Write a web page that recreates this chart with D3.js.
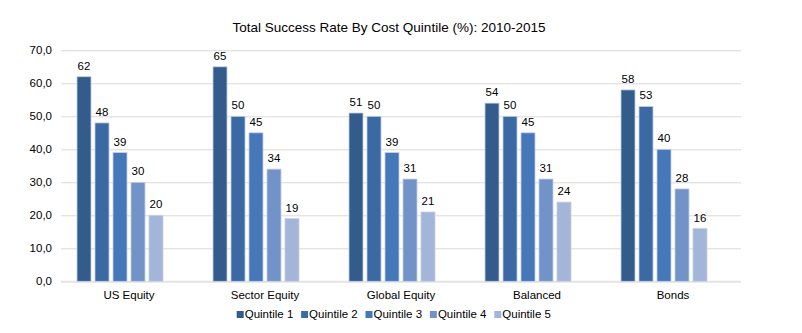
<!DOCTYPE html>
<html>
<head>
<meta charset="utf-8">
<script src="https://cdn.jsdelivr.net/npm/d3@7"></script>
<style>
html,body{margin:0;padding:0;background:#fff;}
svg{display:block;font-family:"Liberation Sans",Arial,sans-serif;}
</style>
</head>
<body>
<svg id="chart" width="802" height="333"></svg>
<script>
const title = "Total Success Rate By Cost Quintile (%): 2010-2015";
const categories = ["US Equity","Sector Equity","Global Equity","Balanced","Bonds"];
const seriesNames = ["Quintile 1","Quintile 2","Quintile 3","Quintile 4","Quintile 5"];
const quintile1 = [62,65,51,54,58];
const quintile2 = [48,50,50,50,53];
const quintile3 = [39,45,39,45,40];
const quintile4 = [30,34,31,31,28];
const quintile5 = [20,19,21,24,16];
const yTicks = [0,10,20,30,40,50,60,70];
const colors = ["#335b8c","#3b69a3","#4577b9","#7293c8","#a3b5d9"];

const seriesValues = [quintile1,quintile2,quintile3,quintile4,quintile5];

const svg = d3.select("#chart");
const margin = {left:61, right:61, top:50.3, bottom:51.7};
const W = 802, H = 333;

const x0 = d3.scaleBand().domain(categories)
  .range([margin.left, W - margin.right])
  .paddingInner(0.206).paddingOuter(0.103);
// six slots per group (last slot empty, as in the source chart)
const slots = [...seriesNames, "_empty"];
const x1 = d3.scaleBand().domain(slots).range([0, x0.bandwidth()]).paddingInner(0.22).paddingOuter(0.11);
const y = d3.scaleLinear().domain([0,70]).range([H - margin.bottom, margin.top]);

// title
svg.append("text").attr("x", 389).attr("y", 32).attr("text-anchor","middle")
  .attr("font-size", 13.5).attr("fill","#000").text(title);

// gridlines
const yAxis = d3.axisLeft(y).tickValues(yTicks).tickSize(-(W - margin.left - margin.right))
  .tickFormat(d => d3.format(".1f")(d).replace(".", ","));
const gy = svg.append("g").attr("transform", `translate(${margin.left},0)`).call(yAxis);
gy.select(".domain").remove();
gy.selectAll(".tick line").attr("stroke","#d9d9d9").attr("stroke-width",1);
gy.selectAll(".tick").filter(d => d === 0).select("line").attr("stroke","#e3e3e3").attr("stroke-width",2);
gy.selectAll(".tick text").attr("x",-9).attr("font-size",11.5).attr("fill","#000")
  .attr("font-family","'Liberation Sans',Arial,sans-serif");

// bars
const groups = svg.append("g").selectAll("g").data(categories).join("g")
  .attr("transform", d => `translate(${x0(d)},0)`);
seriesNames.forEach((s, si) => {
  groups.append("rect")
    .attr("x", x1(s))
    .attr("y", (c, ci) => y(seriesValues[si][ci]))
    .attr("width", x1.bandwidth())
    .attr("height", (c, ci) => y(0) - y(seriesValues[si][ci]))
    .attr("fill", colors[si])
    .attr("stroke", "#c9d3e6").attr("stroke-width", 0.8);
  groups.append("text")
    .attr("x", x1(s) + x1.bandwidth()/2)
    .attr("y", (c, ci) => y(seriesValues[si][ci]) - 7)
    .attr("text-anchor","middle").attr("font-size",11.5).attr("fill","#000")
    .text((c, ci) => seriesValues[si][ci]);
});

// category labels
const xAxis = d3.axisBottom(x0).tickSize(0);
const gx = svg.append("g").attr("transform", `translate(0,${y(0)})`).call(xAxis);
gx.select(".domain").remove();
gx.selectAll(".tick text").attr("dy",0).attr("y",18).attr("font-size",11.5).attr("fill","#000")
  .attr("font-family","'Liberation Sans',Arial,sans-serif");

// legend
const legend = svg.append("g");
const lx = d3.scalePoint().domain(seriesNames).range([236.7, 494.3]);
seriesNames.forEach((s, i) => {
  const g = legend.append("g").attr("transform", `translate(${lx(s)},318)`);
  g.append("rect").attr("x",0).attr("y",-7).attr("width",7).attr("height",7).attr("fill",colors[i]);
  g.append("text").attr("x",8).attr("y",0).attr("font-size",11.5).attr("fill","#000").text(s);
});
</script>
</body>
</html>
